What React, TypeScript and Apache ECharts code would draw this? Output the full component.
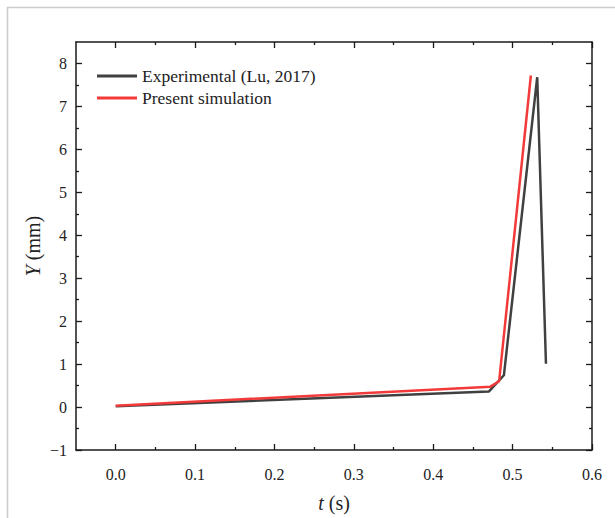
import React, { useEffect, useRef } from "react";
import * as echarts from "echarts";

const expT = [0, 0.47, 0.489, 0.531, 0.542];
const expY = [0.02, 0.36, 0.74, 7.68, 1.01];
const simT = [0, 0.472, 0.483, 0.523];
const simY = [0.03, 0.475, 0.6, 7.72];

const xMajor = [0, 0.1, 0.2, 0.3, 0.4, 0.5, 0.6];
const xMinor = [0.05, 0.15, 0.25, 0.35, 0.45, 0.55];
const yMajor = [-1, 0, 1, 2, 3, 4, 5, 6, 7, 8];
const yMinor = [-0.5, 0.5, 1.5, 2.5, 3.5, 4.5, 5.5, 6.5, 7.5];

const seriesNames = ["Experimental (Lu, 2017)", "Present simulation"];

const FONT = "Liberation Serif";
const AXIS_COLOR = "#1a1a1a";
const TEXT_COLOR = "#222";

function fmt(v: number, digits: number) {
  const s = Math.abs(v).toFixed(digits);
  return v < 0 ? "\u2212" + s : s;
}

export default function App() {
  const ref = useRef<HTMLDivElement>(null);
  useEffect(() => {
    if (!ref.current) return;
    const chart = echarts.init(ref.current, null, { renderer: "svg" });
    const lineStyle = { color: AXIS_COLOR, width: 1.5 };
    const mkX = (position: string, ticks: number[], len: number, major: boolean, labels: boolean) => ({
      type: "value",
      position,
      min: -0.05,
      max: 0.6,
      axisLine: { show: major, onZero: false, lineStyle },
      axisTick: { show: true, inside: true, length: len, customValues: ticks, lineStyle: { color: AXIS_COLOR, width: 1.3 } },
      axisLabel: labels
        ? { show: true, customValues: xMajor, formatter: (v: number) => fmt(v, 1), margin: 16, fontSize: 16, fontFamily: FONT, color: TEXT_COLOR }
        : { show: false },
      splitLine: { show: false },
      ...(labels
        ? {
            name: "{i|t} (s)",
            nameLocation: "middle",
            nameGap: 43,
            nameMoveOverlap: false,
            nameTextStyle: {
              fontSize: 20,
              fontFamily: FONT,
              color: TEXT_COLOR,
              rich: { i: { fontStyle: "italic", fontSize: 20, fontFamily: FONT, color: TEXT_COLOR } },
            },
          }
        : {}),
    });
    const mkY = (position: string, ticks: number[], len: number, major: boolean, labels: boolean) => ({
      type: "value",
      position,
      min: -1,
      max: 8.5,
      axisLine: { show: major, onZero: false, lineStyle },
      axisTick: { show: true, inside: true, length: len, customValues: ticks, lineStyle: { color: AXIS_COLOR, width: 1.3 } },
      axisLabel: labels
        ? { show: true, customValues: yMajor, formatter: (v: number) => fmt(v, 0), margin: 9, fontSize: 16, fontFamily: FONT, color: TEXT_COLOR }
        : { show: false },
      splitLine: { show: false },
      ...(labels
        ? {
            name: "{i|Y} (mm)",
            nameLocation: "middle",
            nameGap: 33,
            nameMoveOverlap: false,
            nameTextStyle: {
              fontSize: 20,
              fontFamily: FONT,
              color: TEXT_COLOR,
              rich: { i: { fontStyle: "italic", fontSize: 20, fontFamily: FONT, color: TEXT_COLOR } },
            },
          }
        : {}),
    });
    const option = {
      animation: false,
      backgroundColor: "#ffffff",
      textStyle: { fontFamily: FONT },
      grid: { left: 76, top: 42, right: 23, bottom: 62, containLabel: false },
      legend: {
        show: true,
        orient: "vertical",
        left: 92,
        top: 62,
        icon: "rect",
        itemWidth: 40,
        itemHeight: 3,
        itemGap: 4,
        data: seriesNames,
        textStyle: { fontSize: 17.5, fontFamily: FONT, color: TEXT_COLOR, lineHeight: 18 },
      },
      xAxis: [
        mkX("bottom", xMajor, 6, true, true),
        mkX("bottom", xMinor, 3, false, false),
        mkX("top", xMajor, 6, true, false),
        mkX("top", xMinor, 3, false, false),
      ],
      yAxis: [
        mkY("left", yMajor, 6, true, true),
        mkY("left", yMinor, 3, false, false),
        mkY("right", yMajor, 6, true, false),
        mkY("right", yMinor, 3, false, false),
      ],
      series: [
        {
          name: seriesNames[0],
          type: "line",
          xAxisIndex: 0,
          yAxisIndex: 0,
          symbol: "none",
          color: "#404040",
          lineStyle: { color: "#404040", width: 2.5 },
          data: expT.map((t, i) => [t, expY[i]]),
        },
        {
          name: seriesNames[1],
          type: "line",
          xAxisIndex: 0,
          yAxisIndex: 0,
          symbol: "none",
          color: "#f23a3a",
          lineStyle: { color: "#f23a3a", width: 2.5 },
          data: simT.map((t, i) => [t, simY[i]]),
        },
      ],
      graphic: [
        { type: "line", shape: { x1: 7.5, y1: 7, x2: 7.5, y2: 518 }, style: { stroke: "#cccccc", lineWidth: 1.5 } },
        { type: "line", shape: { x1: 7, y1: 7.5, x2: 615, y2: 7.5 }, style: { stroke: "#cccccc", lineWidth: 1.5 } },
      ],
    };
    chart.setOption(option as any);
    return () => chart.dispose();
  }, []);
  return (
    <div
      ref={ref}
      style={{ position: "absolute", left: 0, top: 0, width: 615, height: 518, background: "#fff" }}
    />
  );
}
